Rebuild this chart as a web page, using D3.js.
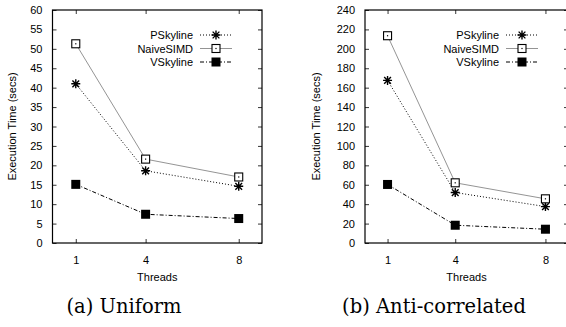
<!DOCTYPE html>
<html>
<head>
<meta charset="utf-8">
<script src="https://cdn.jsdelivr.net/npm/d3@7"></script>
<style>
  body { margin: 0; background: #fff; }
  svg { display: block; }
  text { font-family: "Liberation Sans", Arial, sans-serif; fill: #000; }
  .cap { font-family: "DejaVu Serif", "Liberation Serif", serif; }
</style>
</head>
<body>
<svg id="chart" width="566" height="327"></svg>
<script>
// ---- data ----
const threads = [1, 4, 8];
const seriesNames = ["PSkyline", "NaiveSIMD", "VSkyline"];
const uniformPSkyline = [41, 18.6, 14.6];
const uniformNaiveSIMD = [51.3, 21.6, 17];
const uniformVSkyline = [15.1, 7.4, 6.3];
const antiPSkyline = [167.5, 52, 37.5];
const antiNaiveSIMD = [213.5, 62, 45.5];
const antiVSkyline = [60.3, 18.3, 14.2];
const uniformYTicks = [0, 5, 10, 15, 20, 25, 30, 35, 40, 45, 50, 55, 60];
const antiYTicks = [0, 20, 40, 60, 80, 100, 120, 140, 160, 180, 200, 220, 240];
const captions = ["(a) Uniform", "(b) Anti-correlated"];
const xLabel = "Threads";
const yLabel = "Execution Time (secs)";

const svg = d3.select("#chart");

const styles = {
  PSkyline: { stroke: "#000", width: 1, dash: "1,2", marker: "star" },
  NaiveSIMD: { stroke: "#888", width: 0.9, dash: null, marker: "open" },
  VSkyline: { stroke: "#000", width: 1, dash: "4,2,1,2", marker: "filled" }
};

function drawMarker(g, type, x, y) {
  if (type === "star") {
    const r = 4.5;
    g.append("path")
      .attr("d", `M${x - r},${y}H${x + r}M${x},${y - r}V${y + r}M${x - r * 0.75},${y - r * 0.75}L${x + r * 0.75},${y + r * 0.75}M${x - r * 0.75},${y + r * 0.75}L${x + r * 0.75},${y - r * 0.75}`)
      .attr("stroke", "#000").attr("stroke-width", 1.4).attr("fill", "none");
  } else if (type === "open") {
    const s = 8;
    g.append("rect").attr("x", x - s / 2).attr("y", y - s / 2).attr("width", s).attr("height", s)
      .attr("fill", "#fff").attr("stroke", "#000").attr("stroke-width", 1.1);
    g.append("rect").attr("x", x - 0.6).attr("y", y - 0.6).attr("width", 1.2).attr("height", 1.2).attr("fill", "#000");
  } else {
    const s = 9;
    g.append("rect").attr("x", x - s / 2).attr("y", y - s / 2).attr("width", s).attr("height", s)
      .attr("fill", "#000");
  }
}

function panel(cfg) {
  const { left, right, top, bottom, yMax, yTicks, data, caption, captionX, yLabelX } = cfg;
  const g = svg.append("g");
  const x = d3.scaleLinear().domain([0, 9]).range([left, right]);
  const y = d3.scaleLinear().domain([0, yMax]).range([bottom, top]);

  // axes (ticks inward, mirrored)
  const tl = 4;
  const axL = g.append("g").attr("transform", `translate(${left},0)`)
    .call(d3.axisLeft(y).tickValues(yTicks).tickSize(-tl).tickPadding(6 + tl));
  const axR = g.append("g").attr("transform", `translate(${right},0)`)
    .call(d3.axisRight(y).tickValues(yTicks).tickSize(-tl).tickFormat(""));
  const axB = g.append("g").attr("transform", `translate(0,${bottom})`)
    .call(d3.axisBottom(x).tickValues(threads).tickSize(-tl).tickPadding(9 + tl));
  const axT = g.append("g").attr("transform", `translate(0,${top})`)
    .call(d3.axisTop(x).tickValues(threads).tickSize(-tl).tickFormat(""));
  [axL, axR, axB, axT].forEach(a => {
    a.select(".domain").remove();
    a.selectAll("line").attr("stroke", "#000").attr("stroke-width", 0.8);
    a.selectAll("text").style("font-family", "Liberation Sans, Arial, sans-serif").style("font-size", "11px").attr("fill", "#000");
  });
  g.append("rect").attr("x", left).attr("y", top).attr("width", right - left).attr("height", bottom - top)
    .attr("fill", "none").attr("stroke", "#000").attr("stroke-width", 1.2);

  // lines
  seriesNames.forEach((name, i) => {
    const st = styles[name];
    const vals = data[i];
    const line = d3.line().x((d, j) => x(threads[j])).y(d => y(d));
    g.append("path").datum(vals).attr("d", line).attr("fill", "none")
      .attr("stroke", st.stroke).attr("stroke-width", st.width)
      .attr("stroke-dasharray", st.dash);
  });
  seriesNames.forEach((name, i) => {
    const st = styles[name];
    data[i].forEach((v, j) => drawMarker(g, st.marker, x(threads[j]), y(v)));
  });

  // legend
  const legY = [35, 48.5, 62];
  seriesNames.forEach((name, i) => {
    const st = styles[name];
    const ly = legY[i];
    g.append("text").attr("x", right - 69).attr("y", ly + 4).attr("text-anchor", "end")
      .style("font-size", "11px").text(name);
    g.append("line").attr("x1", right - 62).attr("x2", right - 30).attr("y1", ly).attr("y2", ly)
      .attr("stroke", st.stroke).attr("stroke-width", st.width).attr("stroke-dasharray", st.dash);
    drawMarker(g, st.marker, right - 46, ly);
  });

  // labels
  g.append("text").attr("x", (left + right) / 2).attr("y", 281).attr("text-anchor", "middle")
    .style("font-size", "11px").text(xLabel);
  g.append("text").attr("transform", `translate(${yLabelX},${(top + bottom) / 2}) rotate(-90)`)
    .attr("text-anchor", "middle").style("font-size", "11px").text(yLabel);
  g.append("text").attr("class", "cap").attr("x", captionX).attr("y", 313).attr("text-anchor", "middle")
    .style("font-size", "19.5px").text(caption);
}

panel({ left: 52.5, right: 262, top: 10, bottom: 243, yMax: 60, yTicks: uniformYTicks,
  data: [uniformPSkyline, uniformNaiveSIMD, uniformVSkyline], caption: captions[0], captionX: 124, yLabelX: 16 });
panel({ left: 365, right: 568, top: 10, bottom: 243, yMax: 240, yTicks: antiYTicks,
  data: [antiPSkyline, antiNaiveSIMD, antiVSkyline], caption: captions[1], captionX: 434, yLabelX: 320 });
</script>
</body>
</html>
